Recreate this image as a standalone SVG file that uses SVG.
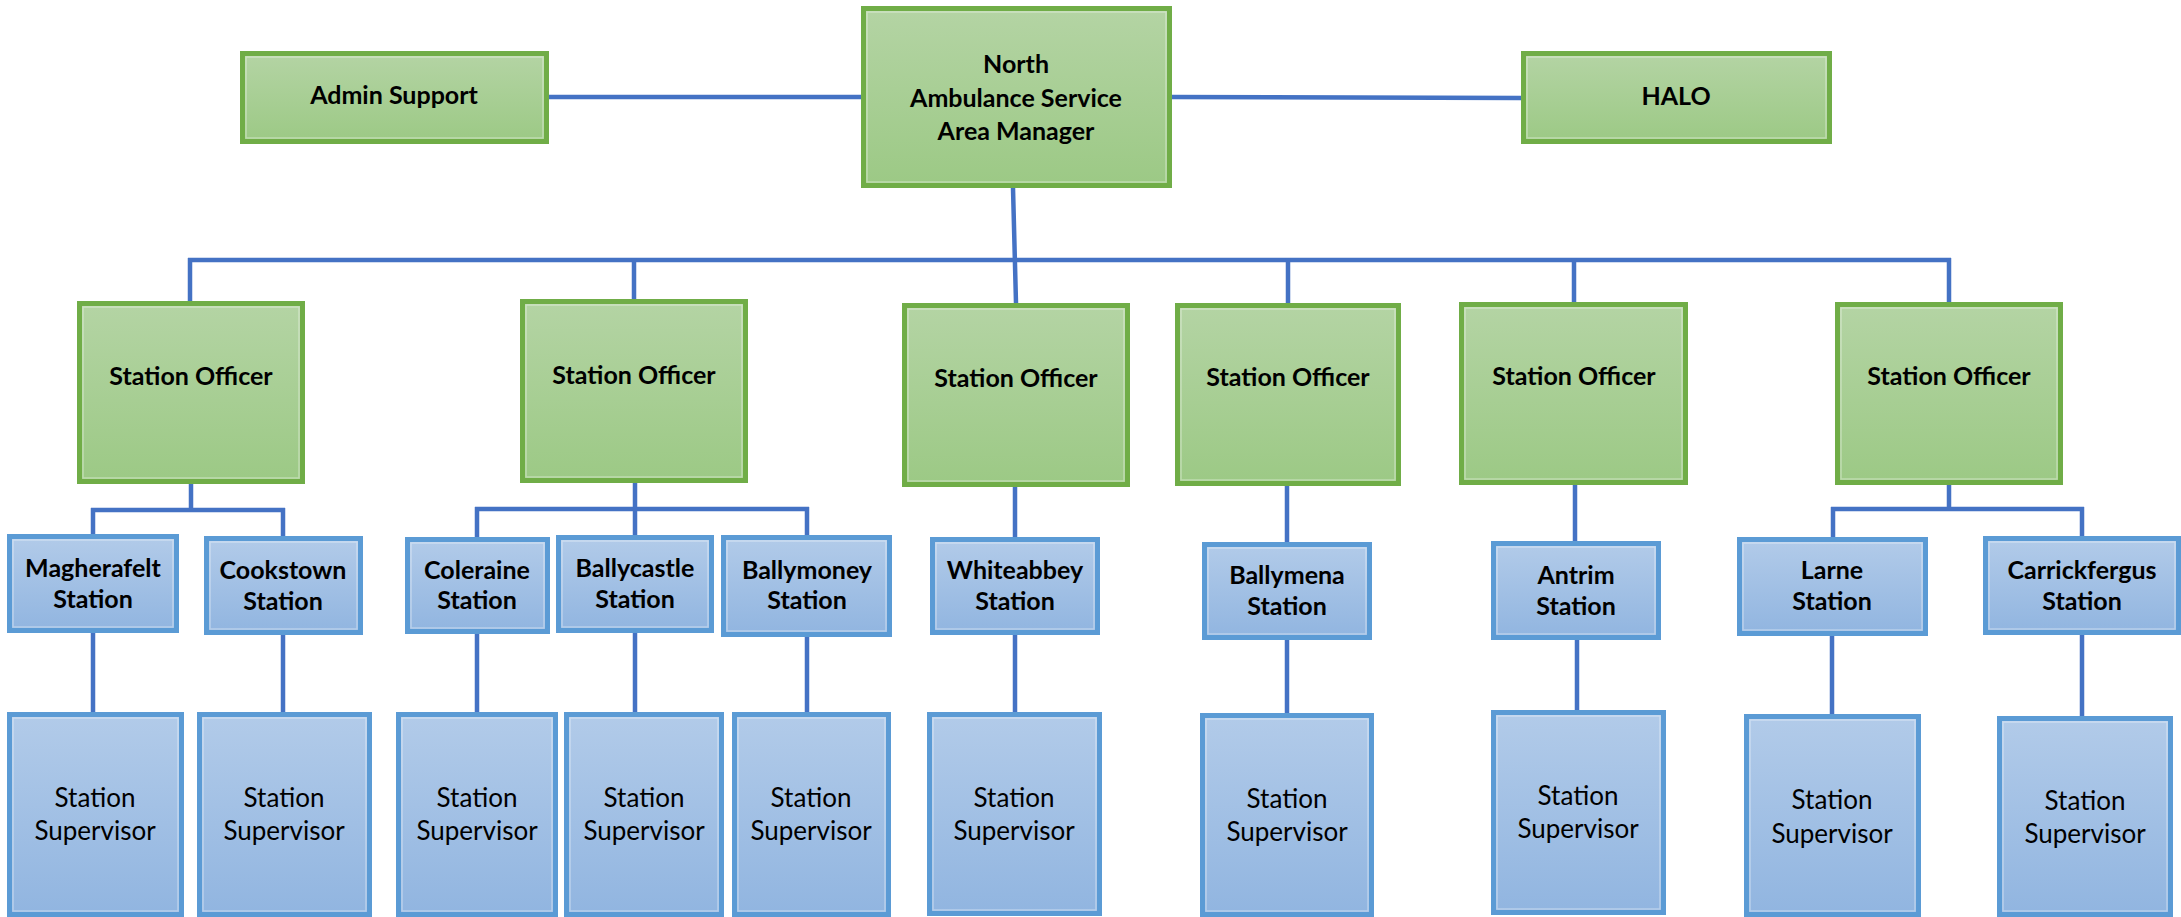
<svg xmlns="http://www.w3.org/2000/svg" width="2181" height="917" viewBox="0 0 2181 917">
<defs>
<linearGradient id="gg" x1="0" y1="0" x2="0" y2="1"><stop offset="0" stop-color="#B4D4A4"/><stop offset="1" stop-color="#9CC985"/></linearGradient>
<linearGradient id="bg" x1="0" y1="0" x2="0" y2="1"><stop offset="0" stop-color="#B2CBE9"/><stop offset="1" stop-color="#91B5E0"/></linearGradient>
<style>
.g{fill:url(#gg);stroke:#70AD47;stroke-width:5}
.b{fill:url(#bg);stroke:#5B9BD5;stroke-width:5}
.hl{fill:none;stroke:#FFFFFF;stroke-opacity:0.35;stroke-width:1.5}
.c{fill:none;stroke:#4472C4;stroke-width:4.5}
text{font-family:Lato,"Liberation Sans",sans-serif;fill:#000;text-anchor:middle}
.tb{font-weight:bold;font-size:25px}
.tr{font-weight:normal;font-size:26px}
</style>
</defs>
<rect width="2181" height="917" fill="#FFFFFF"/>
<g id="connectors">
<path class="c" d="M549 97H862M1171 97L1521 98M1013 188L1016 303M188 260H1951"/>
<path class="c" d="M190 258V301M634 258V299M1288 258V303M1574 258V302M1949 258V302"/>
<path class="c" d="M191 484V510M91 510H285M93 508V534M283 508V536M93 633V712M283 635V712"/>
<path class="c" d="M635 483V509M475 509H809M477 507V537M635 507V535M807 507V535M477 634V712M635 633V712M807 637V712"/>
<path class="c" d="M1015 487V537M1015 635V712"/>
<path class="c" d="M1287 486V542M1287 640V713"/>
<path class="c" d="M1575 485V541M1577 640V710"/>
<path class="c" d="M1949 485V509M1831 509H2084M1833 507V537M2082 507V536M1832 636V714M2082 635V716"/>
</g>
<g id="admin"><rect class="g" x="242.5" y="53.5" width="304" height="88"/><rect class="hl" x="246" y="57" width="297" height="81"/><text class="tb" x="394" y="104">Admin Support</text></g>
<g id="manager"><rect class="g" x="863.5" y="8.5" width="306" height="177"/><rect class="hl" x="867" y="12" width="299" height="170"/><text class="tb" x="1016" y="73">North</text><text class="tb" x="1016" y="107">Ambulance Service</text><text class="tb" x="1016" y="140">Area Manager</text></g>
<g id="halo"><rect class="g" x="1523.5" y="53.5" width="306" height="88"/><rect class="hl" x="1527" y="57" width="299" height="81"/><text class="tb" x="1676" y="105">HALO</text></g>
<g id="so1"><rect class="g" x="79.5" y="303.5" width="223" height="178"/><rect class="hl" x="83" y="307" width="216" height="171"/><text class="tb" x="191" y="385">Station Officer</text></g>
<g id="so2"><rect class="g" x="522.5" y="301.5" width="223" height="179"/><rect class="hl" x="526" y="305" width="216" height="172"/><text class="tb" x="634" y="384">Station Officer</text></g>
<g id="so3"><rect class="g" x="904.5" y="305.5" width="223" height="179"/><rect class="hl" x="908" y="309" width="216" height="172"/><text class="tb" x="1016" y="387">Station Officer</text></g>
<g id="so4"><rect class="g" x="1177.5" y="305.5" width="221" height="178"/><rect class="hl" x="1181" y="309" width="214" height="171"/><text class="tb" x="1288" y="386">Station Officer</text></g>
<g id="so5"><rect class="g" x="1461.5" y="304.5" width="224" height="178"/><rect class="hl" x="1465" y="308" width="217" height="171"/><text class="tb" x="1574" y="385">Station Officer</text></g>
<g id="so6"><rect class="g" x="1837.5" y="304.5" width="223" height="178"/><rect class="hl" x="1841" y="308" width="216" height="171"/><text class="tb" x="1949" y="385">Station Officer</text></g>
<g id="magherafelt"><rect class="b" x="9.5" y="536.5" width="167" height="94"/><rect class="hl" x="13" y="540" width="160" height="87"/><text class="tb" x="93" y="577">Magherafelt</text><text class="tb" x="93" y="608">Station</text></g>
<g id="cookstown"><rect class="b" x="206.5" y="538.5" width="154" height="94"/><rect class="hl" x="210" y="542" width="147" height="87"/><text class="tb" x="283" y="579">Cookstown</text><text class="tb" x="283" y="610">Station</text></g>
<g id="coleraine"><rect class="b" x="407.5" y="539.5" width="140" height="92"/><rect class="hl" x="411" y="543" width="133" height="85"/><text class="tb" x="477" y="579">Coleraine</text><text class="tb" x="477" y="609">Station</text></g>
<g id="ballycastle"><rect class="b" x="558.5" y="537.5" width="153" height="93"/><rect class="hl" x="562" y="541" width="146" height="86"/><text class="tb" x="635" y="577">Ballycastle</text><text class="tb" x="635" y="608">Station</text></g>
<g id="ballymoney"><rect class="b" x="723.5" y="537.5" width="166" height="97"/><rect class="hl" x="727" y="541" width="159" height="90"/><text class="tb" x="807" y="579">Ballymoney</text><text class="tb" x="807" y="609">Station</text></g>
<g id="whiteabbey"><rect class="b" x="932.5" y="539.5" width="165" height="93"/><rect class="hl" x="936" y="543" width="158" height="86"/><text class="tb" x="1015" y="579">Whiteabbey</text><text class="tb" x="1015" y="610">Station</text></g>
<g id="ballymena"><rect class="b" x="1204.5" y="544.5" width="165" height="93"/><rect class="hl" x="1208" y="548" width="158" height="86"/><text class="tb" x="1287" y="584">Ballymena</text><text class="tb" x="1287" y="615">Station</text></g>
<g id="antrim"><rect class="b" x="1493.5" y="543.5" width="165" height="94"/><rect class="hl" x="1497" y="547" width="158" height="87"/><text class="tb" x="1576" y="584">Antrim</text><text class="tb" x="1576" y="615">Station</text></g>
<g id="larne"><rect class="b" x="1739.5" y="539.5" width="186" height="94"/><rect class="hl" x="1743" y="543" width="179" height="87"/><text class="tb" x="1832" y="579">Larne</text><text class="tb" x="1832" y="610">Station</text></g>
<g id="carrickfergus"><rect class="b" x="1985.5" y="538.5" width="193" height="94"/><rect class="hl" x="1989" y="542" width="186" height="87"/><text class="tb" x="2082" y="579">Carrickfergus</text><text class="tb" x="2082" y="610">Station</text></g>
<g id="ss1"><rect class="b" x="9.5" y="714.5" width="172" height="200"/><rect class="hl" x="13" y="718" width="165" height="193"/><text class="tr" x="95" y="807">Station</text><text class="tr" x="95" y="840">Supervisor</text></g>
<g id="ss2"><rect class="b" x="199.5" y="714.5" width="170" height="200"/><rect class="hl" x="203" y="718" width="163" height="193"/><text class="tr" x="284" y="807">Station</text><text class="tr" x="284" y="840">Supervisor</text></g>
<g id="ss3"><rect class="b" x="398.5" y="714.5" width="157" height="200"/><rect class="hl" x="402" y="718" width="150" height="193"/><text class="tr" x="477" y="807">Station</text><text class="tr" x="477" y="840">Supervisor</text></g>
<g id="ss4"><rect class="b" x="566.5" y="714.5" width="155" height="200"/><rect class="hl" x="570" y="718" width="148" height="193"/><text class="tr" x="644" y="807">Station</text><text class="tr" x="644" y="840">Supervisor</text></g>
<g id="ss5"><rect class="b" x="734.5" y="714.5" width="154" height="200"/><rect class="hl" x="738" y="718" width="147" height="193"/><text class="tr" x="811" y="807">Station</text><text class="tr" x="811" y="840">Supervisor</text></g>
<g id="ss6"><rect class="b" x="929.5" y="714.5" width="170" height="199"/><rect class="hl" x="933" y="718" width="163" height="192"/><text class="tr" x="1014" y="807">Station</text><text class="tr" x="1014" y="840">Supervisor</text></g>
<g id="ss7"><rect class="b" x="1202.5" y="715.5" width="169" height="199"/><rect class="hl" x="1206" y="719" width="162" height="192"/><text class="tr" x="1287" y="808">Station</text><text class="tr" x="1287" y="841">Supervisor</text></g>
<g id="ss8"><rect class="b" x="1493.5" y="712.5" width="170" height="200"/><rect class="hl" x="1497" y="716" width="163" height="193"/><text class="tr" x="1578" y="805">Station</text><text class="tr" x="1578" y="838">Supervisor</text></g>
<g id="ss9"><rect class="b" x="1746.5" y="716.5" width="172" height="198"/><rect class="hl" x="1750" y="720" width="165" height="191"/><text class="tr" x="1832" y="809">Station</text><text class="tr" x="1832" y="843">Supervisor</text></g>
<g id="ss10"><rect class="b" x="1999.5" y="718.5" width="171" height="196"/><rect class="hl" x="2003" y="722" width="164" height="189"/><text class="tr" x="2085" y="810">Station</text><text class="tr" x="2085" y="843">Supervisor</text></g>
</svg>
